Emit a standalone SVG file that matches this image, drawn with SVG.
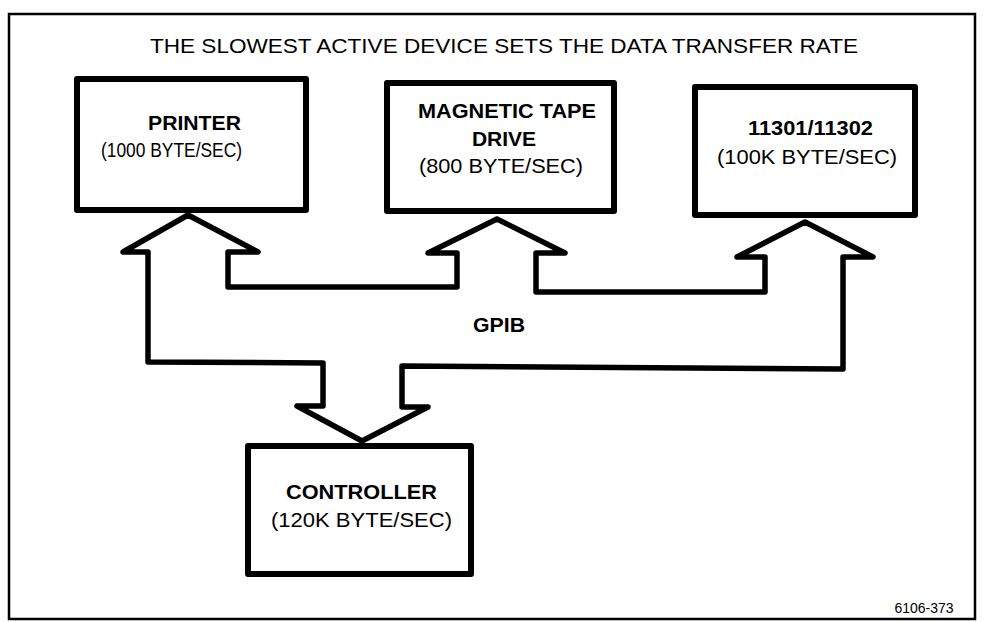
<svg xmlns="http://www.w3.org/2000/svg" width="984" height="622" viewBox="0 0 984 622">
<style>
.box{fill:#fff;stroke:#000;stroke-width:6;stroke-linejoin:round}
.bus{fill:none;stroke:#000;stroke-width:5.5;stroke-linejoin:round}
.b{font-family:"Liberation Sans",Arial,sans-serif;font-weight:bold;font-size:21px;text-anchor:middle;fill:#000}
.r{font-family:"Liberation Sans",Arial,sans-serif;font-size:21px;text-anchor:middle;fill:#000}
.t{font-family:"Liberation Sans",Arial,sans-serif;font-size:21px;text-anchor:middle;fill:#000}
</style>
<rect width="984" height="622" fill="#fff"/>
<rect x="9" y="14" width="966" height="605" fill="none" stroke="#000" stroke-width="2.5"/>
<text class="t" x="504" y="53" textLength="708" lengthAdjust="spacingAndGlyphs">THE SLOWEST ACTIVE DEVICE SETS THE DATA TRANSFER RATE</text>
<g id="connectors">
<path class="bus" d="M148,362 L148,252 L123,252 L188,215 L258,252 L228,252 L228,287 L457,287 L457,253 L428,253 L497,219 L565,253 L536,253 L536,292 L765,292 L765,257 L737,257 L805,222 L873,257 L843,257 L843,369 L402,366 L402,407 L428,407 L362,441 L297,406 L323,406 L323,363 Z"/>
<text class="b" x="499" y="332" textLength="52" lengthAdjust="spacingAndGlyphs">GPIB</text>
</g>
<g id="printer">
<rect class="box" x="77" y="79" width="229" height="131"/>
<text class="b" x="194.5" y="130" textLength="93" lengthAdjust="spacingAndGlyphs">PRINTER</text>
<text class="r" x="171.5" y="157" textLength="141" lengthAdjust="spacingAndGlyphs">(1000 BYTE/SEC)</text>
</g>
<g id="tape">
<rect class="box" x="387" y="83" width="227" height="128"/>
<text class="b" x="507" y="118" textLength="178" lengthAdjust="spacingAndGlyphs">MAGNETIC TAPE</text>
<text class="b" x="504" y="146">DRIVE</text>
<text class="r" x="501" y="173" textLength="164" lengthAdjust="spacingAndGlyphs">(800 BYTE/SEC)</text>
</g>
<g id="dev11301">
<rect class="box" x="695" y="87" width="220" height="128"/>
<text class="b" x="810.5" y="135" textLength="125" lengthAdjust="spacingAndGlyphs">11301/11302</text>
<text class="r" x="807" y="164" textLength="180" lengthAdjust="spacingAndGlyphs">(100K BYTE/SEC)</text>
</g>
<g id="controller">
<rect class="box" x="248" y="446" width="223" height="128"/>
<text class="b" x="361.5" y="499" textLength="151" lengthAdjust="spacingAndGlyphs">CONTROLLER</text>
<text class="r" x="361.5" y="527" textLength="181" lengthAdjust="spacingAndGlyphs">(120K BYTE/SEC)</text>
</g>
<text class="r" x="924" y="613" style="font-size:14px">6106-373</text>
</svg>
